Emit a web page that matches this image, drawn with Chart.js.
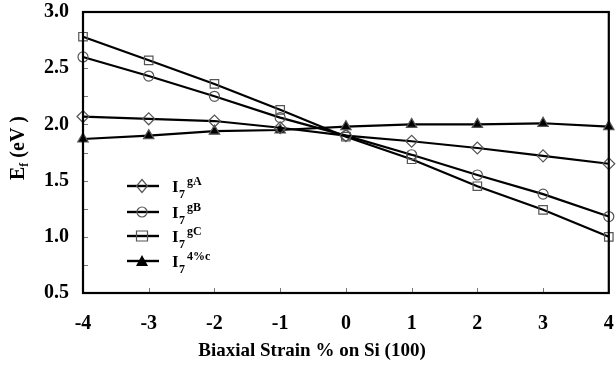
<!DOCTYPE html>
<html>
<head>
<meta charset="utf-8">
<script src="https://cdn.jsdelivr.net/npm/chart.js@4/dist/chart.umd.min.js"></script>
<style>
  html, body { margin: 0; padding: 0; background: #fff; }
  #wrap { width: 616px; height: 369px; }
</style>
</head>
<body>
<div id="wrap"><canvas id="chart" width="616" height="369"></canvas></div>
<script>
// strain values (x) and formation energies (y)
const strain = [-4, -3, -2, -1, 0, 1, 2, 3, 4];
const gA   = [2.07, 2.05, 2.03, 1.97, 1.90, 1.85, 1.79, 1.72, 1.65];
const gB   = [2.60, 2.43, 2.25, 2.06, 1.90, 1.73, 1.55, 1.38, 1.18];
const gC   = [2.78, 2.57, 2.36, 2.13, 1.89, 1.69, 1.45, 1.24, 1.00];
const c4   = [1.87, 1.90, 1.94, 1.95, 1.98, 2.00, 2.00, 2.01, 1.98];
// legend: superscripts that go with I_7
const legendSup = ['gA', 'gB', 'gC', '4%c'];

const serif = '"Liberation Serif", "DejaVu Serif", serif';

function pts(values) {
  return strain.map((s, i) => ({ x: s, y: values[i] }));
}

function makeSet(values, style, radius, fill) {
  return {
    data: pts(values),
    borderColor: '#000',
    borderWidth: 2.2,
    pointStyle: style,
    pointRadius: radius,
    pointBorderColor: '#555',
    pointBorderWidth: 1.2,
    pointBackgroundColor: fill,
    tension: 0,
    clip: false
  };
}

// draws one marker shape (used for the legend)
function marker(ctx, style, x, y) {
  ctx.save();
  ctx.lineWidth = 1.2;
  ctx.strokeStyle = '#555';
  ctx.beginPath();
  if (style === 'diamond') {
    ctx.moveTo(x, y - 6.5); ctx.lineTo(x + 5.5, y); ctx.lineTo(x, y + 6.5); ctx.lineTo(x - 5.5, y); ctx.closePath();
    ctx.stroke();
  } else if (style === 'circle') {
    ctx.arc(x, y, 5, 0, Math.PI * 2);
    ctx.stroke();
  } else if (style === 'square') {
    ctx.rect(x - 5.5, y - 5, 11, 10);
    ctx.stroke();
  } else {
    ctx.fillStyle = '#000';
    ctx.moveTo(x, y - 6); ctx.lineTo(x + 6, y + 5); ctx.lineTo(x - 6, y + 5); ctx.closePath();
    ctx.fill();
  }
  ctx.restore();
}

// frame, inward ticks, axis titles and the legend
const decor = {
  id: 'decor',
  afterDatasetsDraw(chart) {
    const ctx = chart.ctx;
    const a = chart.chartArea;
    const xs = chart.scales.x, ys = chart.scales.y;
    ctx.save();
    // inward ticks
    ctx.strokeStyle = '#777';
    ctx.lineWidth = 1;
    for (let v = 0.75; v < 3; v += 0.25) {
      const y = Math.round(ys.getPixelForValue(v)) + 0.5;
      ctx.beginPath(); ctx.moveTo(a.left, y); ctx.lineTo(a.left + 5, y); ctx.stroke();
    }
    for (let v = -3; v < 4; v++) {
      const x = Math.round(xs.getPixelForValue(v)) + 0.5;
      ctx.beginPath(); ctx.moveTo(x, a.bottom); ctx.lineTo(x, a.bottom - 5); ctx.stroke();
    }
    // frame
    ctx.strokeStyle = '#000';
    ctx.lineWidth = 2.2;
    ctx.strokeRect(a.left, a.top, a.right - a.left, a.bottom - a.top);

    // legend
    const styles = ['diamond', 'circle', 'square', 'triangle'];
    const rows = [186, 212, 236, 261];
    ctx.fillStyle = '#000';
    ctx.textBaseline = 'alphabetic';
    rows.forEach((ry, i) => {
      ctx.strokeStyle = '#000';
      ctx.lineWidth = 2.4;
      ctx.beginPath(); ctx.moveTo(127, ry); ctx.lineTo(159, ry); ctx.stroke();
      marker(ctx, styles[i], 142, ry);
      ctx.font = 'bold 17px ' + serif;
      ctx.textAlign = 'left';
      ctx.fillText('I', 172, ry + 6);
      ctx.font = 'bold 12px ' + serif;
      ctx.fillText('7', 179, ry + 12);
      ctx.font = 'bold 12px ' + serif;
      ctx.fillText(legendSup[i], 187, ry - 1);
    });

    // x title
    ctx.font = 'bold 19px ' + serif;
    ctx.textAlign = 'center';
    ctx.fillText('Biaxial Strain % on Si (100)', 312, 356);

    // y title, rotated
    ctx.translate(24, 148);
    ctx.rotate(-Math.PI / 2);
    ctx.textAlign = 'left';
    const big = 'bold 20px ' + serif;
    const small = 'bold 12px ' + serif;
    ctx.font = big;
    const wE = ctx.measureText('E').width;
    ctx.font = small;
    const wf = ctx.measureText('f').width;
    ctx.font = big;
    const wRest = ctx.measureText(' (eV )').width;
    let x0 = -(wE + wf + wRest) / 2;
    ctx.fillText('E', x0, 0);
    ctx.font = small;
    ctx.fillText('f', x0 + wE, 4);
    ctx.font = big;
    ctx.fillText(' (eV )', x0 + wE + wf, 0);
    ctx.restore();
  }
};

new Chart(document.getElementById('chart'), {
  type: 'line',
  data: {
    datasets: [
      makeSet(gA, 'rectRot', 6, 'rgba(0,0,0,0)'),
      makeSet(gB, 'circle', 5, 'rgba(0,0,0,0)'),
      makeSet(gC, 'rect', 6, 'rgba(0,0,0,0)'),
      makeSet(c4, 'triangle', 6, '#000')
    ]
  },
  options: {
    responsive: false,
    animation: false,
    events: [],
    layout: { padding: { top: 12, right: 6, left: 0, bottom: 0 } },
    plugins: { legend: { display: false }, tooltip: { enabled: false } },
    scales: {
      x: {
        type: 'linear',
        min: -4, max: 4,
        grid: { display: false, drawTicks: false },
        border: { display: false },
        ticks: {
          stepSize: 1,
          padding: 19,
          color: '#000',
          font: { family: serif, size: 20, weight: 'bold' },
          callback: v => String(v)
        },
        afterFit(scale) {
          scale.height = 76;
          scale.paddingLeft = 0;
          scale.paddingRight = 0;
        }
      },
      y: {
        min: 0.5, max: 3.0,
        grid: { display: false, drawTicks: false },
        border: { display: false },
        ticks: {
          stepSize: 0.25,
          padding: 14,
          color: '#000',
          font: { family: serif, size: 20, weight: 'bold' },
          callback: v => (Math.abs(v * 2 - Math.round(v * 2)) < 1e-6 ? v.toFixed(1) : '')
        },
        afterFit(scale) {
          scale.width = 83;
          scale.paddingTop = 0;
          scale.paddingBottom = 0;
        }
      }
    }
  },
  plugins: [decor]
});
</script>
</body>
</html>
